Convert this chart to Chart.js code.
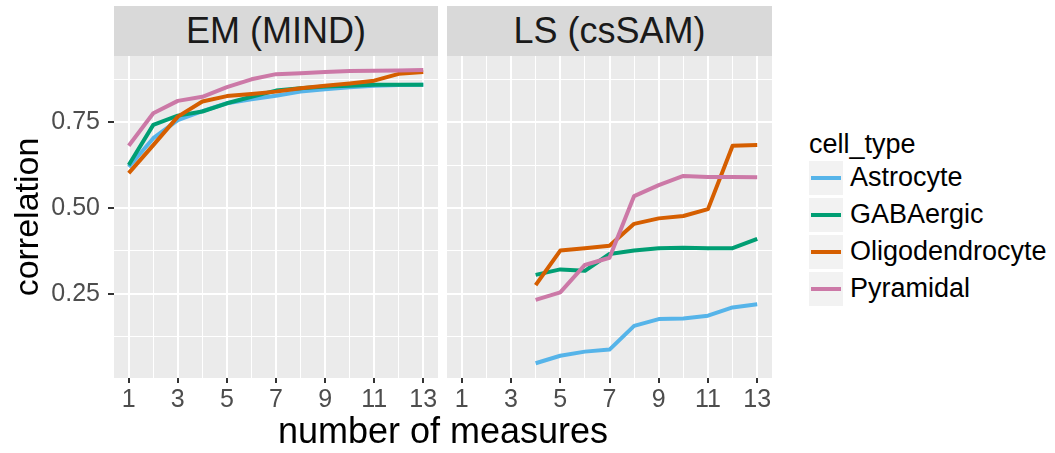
<!DOCTYPE html>
<html>
<head>
<meta charset="utf-8">
<script src="https://cdn.jsdelivr.net/npm/chart.js@4.4.1/dist/chart.umd.min.js"></script>
<style>
  body { margin: 0; background: #fff; font-family: "Liberation Sans", Arial, sans-serif; }
  #wrap { position: relative; width: 1055px; height: 453px; overflow: hidden; }
  canvas { position: absolute; top: 0; }
  .strip { position: absolute; top: 6px; height: 50px; background: #D9D9D9; color: #1A1A1A;
           font-size: 36px; line-height: 50px; text-align: center; }
  #xtitle { position: absolute; left: 143px; width: 600px; top: 413px; text-align: center;
            font-size: 36px; line-height: 36px; color: #000; }
  #legend { position: absolute; left: 809px; top: 131px; color: #000; }
  #legend .title { font-size: 27px; line-height: 27px; margin-bottom: 1px; }
  #legend .row { display: flex; align-items: center; height: 37px; }
  #legend .key { width: 34px; height: 34px; background: #F2F2F2; position: relative; margin-right: 7px; }
  #legend .key span { position: absolute; left: 2px; right: 2px; top: 15px; height: 4px; }
  #legend .lab { font-size: 27px; }
</style>
</head>
<body>
<div id="wrap">
  <canvas id="em" width="440" height="453" style="left:0"></canvas>
  <canvas id="ls" width="340" height="453" style="left:440px"></canvas>
  <div class="strip" style="left:114px;width:324px">EM (MIND)</div>
  <div class="strip" style="left:447px;width:325px">LS (csSAM)</div>
  <div id="xtitle">number of measures</div>
  <div id="legend"></div>
</div>
<script>
// cell types and colours
const cellTypes = ['Astrocyte', 'GABAergic', 'Oligodendrocyte', 'Pyramidal'];
const colors = ['#56B4E9', '#009E73', '#D55E00', '#CC79A7'];

// EM (MIND): number of measures 1..13
const emMeasures = [1, 2, 3, 4, 5, 6, 7, 8, 9, 10, 11, 12, 13];
const emAstrocyte = [0.620, 0.704, 0.757, 0.783, 0.806, 0.818, 0.828, 0.840, 0.847, 0.853, 0.857, 0.859, 0.860];
const emGABAergic = [0.626, 0.743, 0.770, 0.782, 0.806, 0.825, 0.843, 0.850, 0.855, 0.857, 0.860, 0.860, 0.860];
const emOligodendrocyte = [0.602, 0.684, 0.767, 0.811, 0.827, 0.833, 0.840, 0.850, 0.857, 0.864, 0.872, 0.892, 0.897];
const emPyramidal = [0.682, 0.777, 0.813, 0.825, 0.853, 0.876, 0.891, 0.894, 0.897, 0.900, 0.901, 0.902, 0.903];

// LS (csSAM): number of measures 4..13
const lsMeasures = [4, 5, 6, 7, 8, 9, 10, 11, 12, 13];
const lsAstrocyte = [0.047, 0.069, 0.081, 0.087, 0.156, 0.176, 0.178, 0.186, 0.210, 0.219];
const lsGABAergic = [0.305, 0.321, 0.317, 0.366, 0.376, 0.383, 0.384, 0.383, 0.383, 0.410];
const lsOligodendrocyte = [0.275, 0.376, 0.383, 0.390, 0.454, 0.470, 0.477, 0.497, 0.682, 0.684];
const lsPyramidal = [0.232, 0.254, 0.334, 0.355, 0.535, 0.567, 0.594, 0.591, 0.591, 0.590];

// axis breaks
const xTicks = [1, 2, 3, 4, 5, 6, 7, 8, 9, 10, 11, 12, 13];
const yTicks = [0.125, 0.25, 0.375, 0.5, 0.625, 0.75, 0.875];
const yLabels = ['0.25', '0.50', '0.75'];

const panelBg = {
  id: 'panelBg',
  beforeDraw(chart) {
    const a = chart.chartArea;
    chart.ctx.save();
    chart.ctx.fillStyle = '#EBEBEB';
    chart.ctx.fillRect(a.left, a.top, a.right - a.left, a.bottom - a.top);
    chart.ctx.restore();
  }
};

function makeDatasets(xs, series) {
  return series.map((vals, i) => ({
    label: cellTypes[i],
    data: vals.map((v, j) => ({ x: xs[j], y: v })),
    borderColor: colors[i],
    borderWidth: 4,
    pointRadius: 0,
    tension: 0,
    borderJoinStyle: 'round',
    order: 4 - i
  }));
}

function isMajorY(v) { return yLabels.includes(v.toFixed(2)); }

function makePanel(id, xs, series, first) {
  new Chart(document.getElementById(id), {
    type: 'line',
    data: { datasets: makeDatasets(xs, series) },
    plugins: [panelBg],
    options: {
      responsive: false,
      animation: false,
      devicePixelRatio: 1,
      layout: { padding: first ? { top: 56, right: 2, left: 0, bottom: 0 } : { top: 56, right: 8, left: 7, bottom: 0 } },
      plugins: { legend: { display: false }, tooltip: { enabled: false } },
      scales: {
        x: {
          type: 'linear', min: 0.4, max: 13.6,
          afterBuildTicks: s => { s.ticks = xTicks.map(v => ({ value: v })); },
          afterFit: s => { s.height = 75; },
          border: { display: false },
          grid: {
            color: '#FFFFFF',
            lineWidth: c => (c.tick && c.tick.value % 2 === 1) ? 2 : 1,
            tickLength: 5,
            tickWidth: 2,
            tickColor: c => (c.tick && c.tick.value % 2 === 1) ? '#333333' : 'rgba(0,0,0,0)'
          },
          ticks: {
            autoSkip: false, maxRotation: 0, padding: 2,
            color: '#4D4D4D', font: { family: 'Liberation Sans', size: 25 },
            callback: v => (v % 2 === 1) ? String(v) : ''
          }
        },
        y: {
          min: 0.004, max: 0.944,
          afterBuildTicks: s => { s.ticks = yTicks.map(v => ({ value: v })); },
          afterFit: s => { s.width = first ? 114 : 0; },
          border: { display: false },
          grid: {
            color: '#FFFFFF',
            lineWidth: c => (c.tick && isMajorY(c.tick.value)) ? 2 : 1,
            drawTicks: first,
            tickLength: 6,
            tickWidth: 2,
            tickColor: c => (c.tick && isMajorY(c.tick.value)) ? '#333333' : 'rgba(0,0,0,0)'
          },
          ticks: {
            display: first, autoSkip: false, padding: 8,
            color: '#4D4D4D', font: { family: 'Liberation Sans', size: 25 },
            callback: v => isMajorY(v) ? v.toFixed(2) : ''
          },
          title: {
            display: first, text: 'correlation', color: '#000000',
            font: { family: 'Liberation Sans', size: 34 }, padding: { top: 8, bottom: 0 }
          }
        }
      }
    }
  });
}

makePanel('em', emMeasures, [emAstrocyte, emGABAergic, emOligodendrocyte, emPyramidal], true);
makePanel('ls', lsMeasures, [lsAstrocyte, lsGABAergic, lsOligodendrocyte, lsPyramidal], false);

// legend built from the same arrays
const legend = document.getElementById('legend');
legend.innerHTML = '<div class="title">cell_type</div>' + cellTypes.map((t, i) =>
  '<div class="row"><div class="key"><span style="background:' + colors[i] + '"></span></div><div class="lab">' + t + '</div></div>'
).join('');
</script>
</body>
</html>
